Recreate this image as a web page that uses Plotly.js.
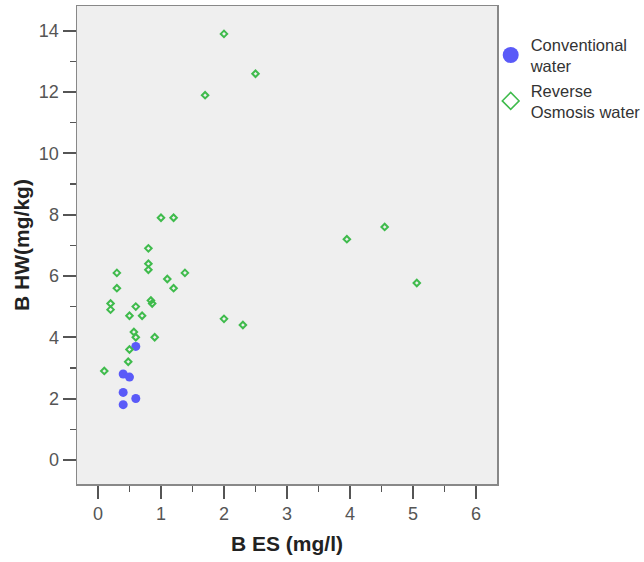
<!DOCTYPE html>
<html>
<head>
<meta charset="utf-8">
<script src="https://cdn.plot.ly/plotly-3.0.1.min.js"></script>
<style>html,body{margin:0;padding:0;background:#fff;}#chart{width:644px;height:562px;}</style>
</head>
<body>
<div id="chart"></div>
<script>
// Conventional water
var convX = [0.6, 0.4, 0.5, 0.4, 0.6, 0.4];
var convY = [3.7, 2.8, 2.7, 2.2, 2.0, 1.8];
// Reverse Osmosis water
var roX = [2.0, 2.5, 1.7, 1.0, 1.2, 0.8, 3.95, 4.55, 0.8, 0.8, 0.3, 1.38, 1.1, 1.2, 0.3, 5.06, 0.2, 0.2, 0.6, 0.84, 0.86, 0.5, 0.7, 2.0, 2.3, 0.57, 0.6, 0.9, 0.5, 0.48, 0.1];
var roY = [13.9, 12.6, 11.9, 7.9, 7.9, 6.9, 7.2, 7.6, 6.4, 6.2, 6.1, 6.1, 5.9, 5.6, 5.6, 5.77, 5.1, 4.9, 5.0, 5.2, 5.1, 4.7, 4.7, 4.6, 4.4, 4.17, 4.0, 4.0, 3.6, 3.2, 2.9];
var seriesNames = ["Conventional<br>water", "Reverse<br>Osmosis water"];
var xTitle = "B ES (mg/l)";
var yTitle = "B HW(mg/kg)";

var blue = "#5a5af8";
var green = "#3fbb4c";

var traces = [
  {x: convX, y: convY, type: "scatter", mode: "markers", showlegend: false,
   marker: {symbol: "circle", size: 9, color: blue}},
  {x: roX, y: roY, type: "scatter", mode: "markers", showlegend: false,
   marker: {symbol: "diamond-open", size: 5, color: green, line: {width: 2, color: green}}},
  {x: [null], y: [null], type: "scatter", mode: "markers", name: seriesNames[0],
   marker: {symbol: "circle", size: 16, color: blue}},
  {x: [null], y: [null], type: "scatter", mode: "markers", name: seriesNames[1],
   marker: {symbol: "diamond-open", size: 13, color: green, line: {width: 1.5, color: green}}}
];

var tickFont = {family: "Liberation Sans, Arial, sans-serif", size: 18, color: "#555"};
var titleFont = {family: "Liberation Sans, Arial, sans-serif", size: 21, color: "#222", weight: "bold"};

var layout = {
  width: 644, height: 562,
  margin: {l: 77, r: 147, t: 6, b: 78, pad: 0, autoexpand: false},
  paper_bgcolor: "#ffffff",
  plot_bgcolor: "#efefef",
  font: {family: "Liberation Sans, Arial, sans-serif"},
  xaxis: {
    range: [-0.333, 6.333], dtick: 1, tick0: 0,
    showgrid: false, zeroline: false,
    showline: true, mirror: true, linecolor: "#888", linewidth: 1.5,
    ticks: "outside", ticklen: 13, tickwidth: 2, tickcolor: "#555",
    minor: {dtick: 0.5, tick0: 0, ticks: "outside", ticklen: 6, tickwidth: 1.3, tickcolor: "#555", showgrid: false},
    tickfont: tickFont,
    title: {text: "<b>" + xTitle + "</b>", font: titleFont, standoff: 13}
  },
  yaxis: {
    range: [-0.79, 14.81], dtick: 2, tick0: 0,
    showgrid: false, zeroline: false,
    showline: true, mirror: true, linecolor: "#888", linewidth: 1.5,
    ticks: "outside", ticklen: 13, tickwidth: 2, tickcolor: "#555",
    minor: {dtick: 1, tick0: 0, ticks: "outside", ticklen: 6, tickwidth: 1.3, tickcolor: "#555", showgrid: false},
    tickfont: tickFont,
    title: {text: "<b>" + yTitle + "</b>", font: titleFont, standoff: 3}
  },
  legend: {
    x: 0.985, xanchor: "left", y: 0.956, yanchor: "top",
    bgcolor: "rgba(0,0,0,0)",
    font: {family: "Liberation Sans, Arial, sans-serif", size: 16.5, color: "#333"},
    itemwidth: 30, tracegroupgap: 4, valign: "middle"
  },
  showlegend: true
};

Plotly.newPlot("chart", traces, layout, {staticPlot: true, displayModeBar: false});
</script>
</body>
</html>
